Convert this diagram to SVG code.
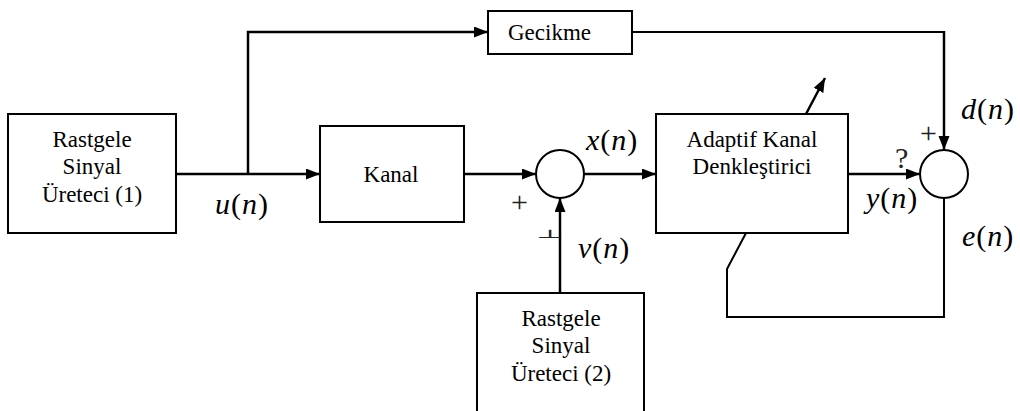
<svg xmlns="http://www.w3.org/2000/svg" width="1020" height="411" viewBox="0 0 1020 411">
<style>
.box{fill:#fff;stroke:#000;stroke-width:2}
.sum{fill:#fff;stroke:#000;stroke-width:2}
.lbl{font-family:'Liberation Serif','DejaVu Serif',serif;font-size:23px;fill:#000}
.math{font-family:'Liberation Serif','DejaVu Serif',serif;font-size:30px;fill:#000;letter-spacing:1px}
.math .v{font-style:italic}
.sgn{font-family:'Liberation Serif','DejaVu Serif',serif;font-size:30px;fill:#222}
.c{fill:none;stroke:#000;stroke-width:2.5}
.t{fill:none;stroke:#000;stroke-width:2}
</style>
<defs>
<marker id="ah" markerUnits="userSpaceOnUse" markerWidth="15" markerHeight="12" refX="14" refY="5.5" orient="auto">
<path d="M0,0 L14,5.5 L0,11 z" fill="#000"/>
</marker>
</defs>
<g id="connectors">
<line class="c" x1="176" y1="174" x2="320" y2="174" marker-end="url(#ah)"/>
<polyline class="c" points="248,174 248,32 488,32" marker-end="url(#ah)"/>
<line class="c" x1="464" y1="174" x2="536" y2="174" marker-end="url(#ah)"/>
<line class="c" x1="584" y1="174" x2="656" y2="174" marker-end="url(#ah)"/>
<line class="c" x1="560" y1="293" x2="560" y2="198" marker-end="url(#ah)"/>
<line class="c" x1="848" y1="174" x2="920" y2="174" marker-end="url(#ah)"/>
<polyline class="t" points="632,32 944,32"/>
<line class="c" x1="944" y1="31" x2="944" y2="150" marker-end="url(#ah)"/>
<polyline class="t" points="944,198 944,317 727,317 727,269 746,233"/>
<line class="c" x1="806" y1="114" x2="825" y2="78" marker-end="url(#ah)"/>
</g>
<g id="gen1">
<rect class="box" x="8" y="114" width="168" height="119"/>
<text class="lbl" text-anchor="middle" x="92" y="147">Rastgele</text>
<text class="lbl" text-anchor="middle" x="92" y="174">Sinyal</text>
<text class="lbl" text-anchor="middle" x="92" y="202">Üreteci (1)</text>
</g>
<g id="kanal">
<rect class="box" x="320" y="126" width="144" height="96"/>
<text class="lbl" text-anchor="middle" x="391" y="182">Kanal</text>
</g>
<g id="gecikme">
<rect class="box" x="488" y="11" width="144" height="43"/>
<text class="lbl" x="508" y="40">Gecikme</text>
</g>
<g id="sum1">
<circle class="sum" cx="560" cy="174" r="24"/>
</g>
<g id="equalizer">
<rect class="box" x="656" y="114" width="192" height="119"/>
<text class="lbl" text-anchor="middle" x="752" y="147">Adaptif Kanal</text>
<text class="lbl" text-anchor="middle" x="752" y="174">Denkleştirici</text>
</g>
<g id="sum2">
<circle class="sum" cx="944" cy="174" r="24"/>
</g>
<g id="gen2">
<rect class="box" x="477" y="293" width="167" height="130"/>
<text class="lbl" text-anchor="middle" x="561" y="326">Rastgele</text>
<text class="lbl" text-anchor="middle" x="561" y="353">Sinyal</text>
<text class="lbl" text-anchor="middle" x="561" y="381">Üreteci (2)</text>
</g>
<g id="labels">
<text class="math" x="215" y="214"><tspan class="v">u</tspan>(<tspan class="v">n</tspan>)</text>
<text class="math" x="586" y="150"><tspan class="v">x</tspan>(<tspan class="v">n</tspan>)</text>
<text class="math" x="578" y="258"><tspan class="v">v</tspan>(<tspan class="v">n</tspan>)</text>
<text class="math" x="866" y="208"><tspan class="v">y</tspan>(<tspan class="v">n</tspan>)</text>
<text class="math" x="961" y="119"><tspan class="v">d</tspan>(<tspan class="v">n</tspan>)</text>
<text class="math" x="962" y="246"><tspan class="v">e</tspan>(<tspan class="v">n</tspan>)</text>
<text class="sgn" x="511" y="212">+</text>
<text class="sgn" transform="translate(536,238) scale(1,0.4)" x="0" y="0">⊥</text>
<text class="sgn" x="920" y="143">+</text>
<text class="sgn" x="895" y="168" font-size="22">?</text>
</g>
</svg>
